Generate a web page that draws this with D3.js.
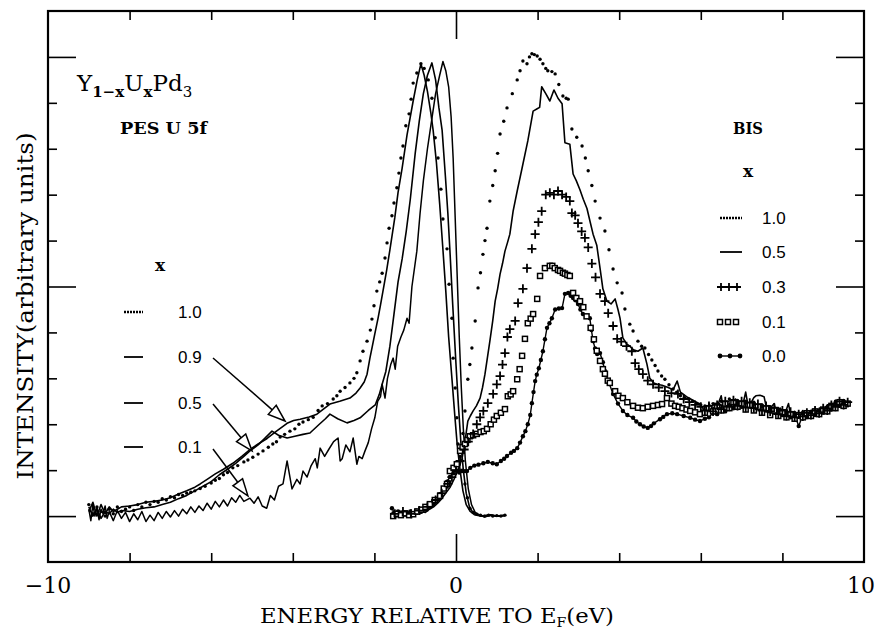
<!DOCTYPE html>
<html>
<head>
<meta charset="utf-8">
<script src="https://cdnjs.cloudflare.com/ajax/libs/d3/7.8.5/d3.min.js"></script>
<style>
  body { margin: 0; background: #fff; }
  svg text { fill: #000; }
</style>
</head>
<body>
<div id="main"></div>
<script>
// ---- data: [energy (eV), intensity (arb.)] ----

// PES U 5f, x = 1.0 (dotted)
var pes10 = [[-9.0,0.25],[-8.9,0.05],[-8.8,0.2],[-8.7,0.1],[-8.6,0.0],[-8.5,0.15],[-8.4,0.05],[-8.3,0.2],[-8.2,0.1],[-8.1,0.15],
  [-8.0,0.2],[-7.9,0.12],[-7.8,0.25],[-7.7,0.2],[-7.6,0.3],[-7.5,0.25],[-7.4,0.32],[-7.3,0.3],[-7.2,0.38],[-7.1,0.35],
  [-7.0,0.42],[-6.9,0.4],[-6.8,0.47],[-6.7,0.45],[-6.6,0.5],[-6.5,0.52],[-6.4,0.55],[-6.27,0.6],[-6.15,0.65],[-6.0,0.72],
  [-5.9,0.78],[-5.8,0.82],[-5.7,0.9],[-5.6,0.95],[-5.47,1.05],[-5.35,1.1],[-5.2,1.18],[-5.1,1.22],[-4.98,1.28],[-4.85,1.35],
  [-4.73,1.42],[-4.6,1.5],[-4.49,1.57],[-4.4,1.62],[-4.31,1.72],[-4.2,1.78],[-4.07,1.85],[-3.95,1.9],[-3.85,2.0],[-3.75,2.05],
  [-3.62,2.1],[-3.5,2.15],[-3.38,2.3],[-3.28,2.4],[-3.15,2.45],[-3.01,2.55],[-2.92,2.62],[-2.84,2.72],[-2.72,2.8],[-2.6,2.9],
  [-2.5,3.0],[-2.43,3.12],[-2.35,3.38],[-2.28,3.59],[-2.18,3.81],[-2.1,4.05],[-2.06,4.29],[-2.01,4.58],[-1.94,4.9],[-1.87,5.1],
  [-1.81,5.29],[-1.74,5.62],[-1.69,5.95],[-1.64,6.27],[-1.57,6.54],[-1.52,6.82],[-1.45,7.15],[-1.4,7.47],[-1.35,7.8],[-1.3,8.06],
  [-1.23,8.5],[-1.15,8.76],[-1.1,9.08],[-1.05,9.43],[-0.96,9.65],[-0.86,9.85],[-0.78,9.75],[-0.68,9.5],[-0.59,9.1],[-0.51,8.24],
  [-0.44,7.8],[-0.37,7.12],[-0.32,6.47],[-0.22,5.82],[-0.17,5.05],[-0.1,4.31],[-0.07,3.44],[-0.02,2.79],[0.02,2.14],[0.05,1.57],
  [0.1,1.3],[0.15,1.0],[0.22,0.7],[0.28,0.4],[0.34,0.17],[0.42,0.08],[0.51,0.04],[0.6,0.02],[0.7,0.0],[0.8,0.02],[0.9,0.0],[1.0,0.01],[1.1,0.0],[1.2,0.02]];

// PES x = 0.9 (solid)
var pes09 = [[-9.0,0.1],[-8.9,0.3],[-8.8,0.0],[-8.7,0.25],[-8.6,0.05],[-8.5,0.2],[-8.4,0.1],[-8.3,0.15],[-8.2,0.2],[-8.0,0.22],
  [-7.8,0.25],[-7.6,0.3],[-7.4,0.32],[-7.2,0.35],[-7.0,0.4],[-6.8,0.48],[-6.6,0.55],[-6.4,0.63],[-6.27,0.7],[-6.1,0.8],
  [-5.9,0.92],[-5.7,1.02],[-5.47,1.15],[-5.25,1.3],[-5.05,1.45],[-4.85,1.57],[-4.63,1.69],[-4.4,1.85],[-4.14,2.02],[-3.98,2.08],
  [-3.82,2.11],[-3.6,2.16],[-3.41,2.22],[-3.25,2.33],[-3.09,2.44],[-2.85,2.5],[-2.6,2.57],[-2.45,2.68],[-2.35,2.79],[-2.25,2.92],
  [-2.18,3.09],[-2.11,3.44],[-2.05,3.7],[-1.99,3.97],[-1.91,4.31],[-1.85,4.6],[-1.79,4.9],[-1.7,5.35],[-1.62,5.8],[-1.5,6.5],
  [-1.42,7.05],[-1.32,7.58],[-1.2,8.3],[-1.05,9.04],[-0.95,9.5],[-0.86,9.85],[-0.78,9.6],[-0.7,9.25],[-0.62,8.8],[-0.56,8.4],
  [-0.48,7.7],[-0.4,6.8],[-0.32,5.8],[-0.25,4.9],[-0.18,3.9],[-0.1,3.0],[-0.03,2.2],[0.03,1.55],[0.1,1.0],[0.17,0.55],
  [0.25,0.25],[0.35,0.1],[0.45,0.03],[0.6,0.0],[0.8,0.02],[1.0,0.0],[1.2,0.01]];

// PES x = 0.5 (solid)
var pes05 = [[-9.0,0.2],[-8.9,0.0],[-8.8,0.15],[-8.7,-0.05],[-8.6,0.1],[-8.5,0.05],[-8.4,0.15],[-8.3,0.08],[-8.2,0.12],[-8.0,0.1],
  [-7.8,0.15],[-7.6,0.18],[-7.4,0.2],[-7.2,0.25],[-7.0,0.3],[-6.8,0.38],[-6.6,0.45],[-6.4,0.55],[-6.2,0.65],[-6.0,0.75],
  [-5.8,0.9],[-5.6,1.02],[-5.4,1.15],[-5.2,1.3],[-5.05,1.42],[-4.85,1.55],[-4.7,1.68],[-4.51,1.85],[-4.35,1.76],[-4.14,1.7],
  [-3.95,1.74],[-3.75,1.78],[-3.58,1.81],[-3.35,2.0],[-3.2,2.12],[-3.09,2.22],[-2.9,2.12],[-2.67,2.03],[-2.5,2.08],[-2.35,2.14],
  [-2.15,2.3],[-1.98,2.42],[-1.88,2.65],[-1.81,2.87],[-1.72,3.15],[-1.62,3.7],[-1.52,4.4],[-1.42,5.1],[-1.32,5.6],[-1.22,6.2],
  [-1.12,6.9],[-1.0,7.9],[-0.9,8.6],[-0.8,9.2],[-0.7,9.6],[-0.59,9.87],[-0.5,9.5],[-0.42,8.9],[-0.34,8.4],[-0.26,7.4],
  [-0.2,6.6],[-0.15,5.8],[-0.08,4.6],[0.0,3.3],[0.06,2.4],[0.12,1.6],[0.18,1.0],[0.25,0.5],[0.33,0.2],[0.42,0.07],
  [0.55,0.02],[0.7,0.0],[0.85,0.03],[1.0,0.0],[1.2,0.02]];

// PES x = 0.1 (solid, noisy)
var pes01 = [[-9.0,0.15],[-8.95,-0.1],[-8.9,0.25],[-8.85,0.0],[-8.8,0.2],[-8.75,-0.08],[-8.7,0.15],[-8.65,0.05],[-8.6,0.22],[-8.55,-0.05],
  [-8.5,0.1],[-8.4,-0.1],[-8.3,0.12],[-8.2,-0.05],[-8.1,0.08],[-8.0,-0.12],[-7.9,0.05],[-7.8,-0.08],[-7.7,0.1],[-7.6,-0.12],
  [-7.5,0.02],[-7.4,-0.1],[-7.3,0.08],[-7.2,-0.05],[-7.1,0.1],[-7.0,-0.02],[-6.9,0.12],[-6.8,0.0],[-6.7,0.15],[-6.6,0.05],
  [-6.5,0.2],[-6.4,0.08],[-6.3,0.22],[-6.2,0.12],[-6.1,0.28],[-6.0,0.15],[-5.9,0.32],[-5.8,0.2],[-5.7,0.35],[-5.6,0.22],
  [-5.5,0.4],[-5.4,0.3],[-5.3,0.45],[-5.2,0.32],[-5.05,0.39],[-4.95,0.28],[-4.85,0.42],[-4.75,0.22],[-4.64,0.17],[-4.55,0.45],
  [-4.45,0.35],[-4.35,0.65],[-4.24,0.7],[-4.14,1.2],[-4.02,0.59],[-3.9,0.8],[-3.82,0.7],[-3.75,0.98],[-3.65,0.85],[-3.55,1.1],
  [-3.45,1.25],[-3.4,1.05],[-3.33,1.48],[-3.22,1.3],[-3.12,1.45],[-3.0,1.62],[-2.89,1.7],[-2.84,1.2],[-2.79,1.25],[-2.7,1.55],
  [-2.6,1.4],[-2.52,1.7],[-2.43,1.13],[-2.38,1.3],[-2.3,1.25],[-2.23,1.42],[-2.15,1.6],[-2.07,1.9],[-1.99,2.14],[-1.92,2.5],
  [-1.85,2.6],[-1.81,2.87],[-1.74,2.57],[-1.68,3.0],[-1.6,3.3],[-1.54,3.44],[-1.49,3.2],[-1.43,3.7],[-1.35,3.9],[-1.28,4.05],
  [-1.2,4.31],[-1.15,4.2],[-1.08,5.0],[-0.96,5.77],[-0.88,6.6],[-0.8,7.3],[-0.7,8.0],[-0.6,8.6],[-0.5,9.2],[-0.4,9.6],
  [-0.32,9.9],[-0.25,9.7],[-0.18,9.35],[-0.12,8.7],[-0.07,7.8],[-0.02,6.5],[0.03,5.2],[0.08,3.9],[0.13,2.8],[0.18,1.9],
  [0.23,1.2],[0.3,0.6],[0.38,0.25],[0.47,0.08],[0.58,0.02],[0.7,-0.02],[0.85,0.02],[1.0,0.0],[1.2,0.01]];

// BIS x = 1.0 (dotted)
var bis10 = [[-1.55,0.05],[-1.45,0.0],[-1.35,0.08],[-1.25,0.02],[-1.15,0.07],[-1.05,0.03],[-0.95,0.1],[-0.85,0.08],[-0.75,0.15],[-0.65,0.2],
  [-0.55,0.25],[-0.45,0.35],[-0.35,0.45],[-0.25,0.6],[-0.15,0.75],[-0.05,0.92],[0.05,1.12],[0.12,1.4],[0.17,1.8],[0.22,2.29],
  [0.29,2.98],[0.34,3.3],[0.39,3.66],[0.47,4.25],[0.54,4.97],[0.6,5.3],[0.66,5.7],[0.71,6.0],[0.76,6.27],[0.83,6.86],
  [0.9,7.2],[0.96,7.52],[1.02,7.9],[1.08,8.32],[1.17,8.6],[1.25,8.89],[1.38,9.2],[1.5,9.5],[1.57,9.7],[1.64,9.91],
  [1.74,9.85],[1.8,10.0],[1.86,10.07],[1.92,10.05],[1.99,10.02],[2.06,9.95],[2.13,9.85],[2.2,9.75],[2.25,9.7],[2.35,9.68],
  [2.43,9.63],[2.52,9.4],[2.62,9.15],[2.7,9.1],[2.75,9.08],[2.84,8.43],[2.96,8.25],[3.09,8.06],[3.17,7.8],[3.24,7.52],
  [3.33,7.2],[3.41,6.86],[3.53,6.49],[3.65,6.21],[3.75,5.8],[3.85,5.38],[3.95,5.08],[4.07,4.86],[4.14,4.51],[4.26,4.18],
  [4.34,4.03],[4.46,3.81],[4.55,3.7],[4.63,3.66],[4.72,3.52],[4.8,3.4],[4.88,3.28],[4.95,3.16],[5.04,3.05],[5.12,2.98],
  [5.22,2.86],[5.32,2.77],[5.41,2.7],[5.5,2.62],[5.6,2.58],[5.7,2.55],[5.8,2.5],[5.9,2.45],[6.0,2.42],[6.1,2.4],
  [6.2,2.32],[6.3,2.45],[6.4,2.38],[6.5,2.5],[6.6,2.42],[6.7,2.55],[6.8,2.47],[6.9,2.52],[7.0,2.4],[7.1,2.5],
  [7.2,2.43],[7.3,2.48],[7.4,2.36],[7.5,2.42],[7.6,2.3],[7.7,2.38],[7.8,2.28],[7.9,2.34],[8.0,2.22],[8.1,2.3],
  [8.2,2.18],[8.3,2.25],[8.4,2.15],[8.5,2.24],[8.6,2.2],[8.7,2.28],[8.8,2.22],[8.9,2.3],[9.0,2.32],[9.1,2.38],
  [9.2,2.35],[9.3,2.5],[9.4,2.44],[9.5,2.52],[9.6,2.4]];

// BIS x = 0.5 (solid)
var bis05 = [[-1.57,0.1],[-1.5,0.02],[-1.42,0.08],[-1.33,0.0],[-1.25,0.06],[-1.15,0.02],[-1.05,0.08],[-0.95,0.04],[-0.85,0.1],[-0.75,0.08],
  [-0.65,0.15],[-0.55,0.2],[-0.45,0.28],[-0.35,0.38],[-0.25,0.5],[-0.15,0.62],[-0.05,0.8],[0.05,1.0],[0.15,1.26],[0.22,1.63],
  [0.29,2.07],[0.35,2.18],[0.42,2.29],[0.5,2.4],[0.59,2.57],[0.65,2.8],[0.71,3.09],[0.77,3.45],[0.83,3.81],[0.9,4.25],
  [0.96,4.68],[1.02,4.95],[1.08,5.27],[1.14,5.5],[1.2,5.77],[1.26,5.95],[1.32,6.14],[1.4,6.64],[1.5,7.08],[1.62,7.58],
  [1.76,8.17],[1.89,8.82],[1.99,8.87],[2.05,8.9],[2.1,9.35],[2.2,9.2],[2.3,9.04],[2.4,9.28],[2.5,9.1],[2.6,8.98],
  [2.67,8.13],[2.79,8.1],[2.87,7.45],[2.95,7.3],[3.04,7.1],[3.12,6.9],[3.21,6.7],[3.29,6.4],[3.36,6.14],[3.45,5.9],
  [3.53,5.4],[3.6,4.95],[3.7,4.68],[3.8,4.62],[3.9,4.73],[3.97,4.5],[4.02,4.31],[4.09,3.88],[4.18,3.75],[4.26,3.7],
  [4.35,3.62],[4.46,3.59],[4.58,3.66],[4.68,3.31],[4.75,3.0],[4.85,2.9],[4.92,2.87],[5.05,2.85],[5.2,2.8],[5.32,2.75],
  [5.42,2.94],[5.5,2.7],[5.56,2.66],[5.65,2.6],[5.75,2.55],[5.85,2.5],[5.98,2.44],[6.05,2.35],[6.15,2.2],[6.2,2.45],
  [6.3,2.3],[6.4,2.38],[6.5,2.62],[6.55,2.35],[6.65,2.45],[6.75,2.4],[6.85,2.55],[6.95,2.42],[7.05,2.5],[7.1,2.7],
  [7.15,2.45],[7.25,2.5],[7.3,2.58],[7.35,2.62],[7.45,2.63],[7.55,2.6],[7.6,2.4],[7.7,2.35],[7.8,2.45],[7.85,2.25],
  [7.95,2.35],[8.05,2.2],[8.15,2.45],[8.2,2.2],[8.3,2.28],[8.4,2.15],[8.5,2.3],[8.6,2.18],[8.7,2.25],[8.8,2.35],
  [8.9,2.2],[9.0,2.3],[9.1,2.42],[9.2,2.3],[9.3,2.52],[9.4,2.38],[9.5,2.5],[9.6,2.42]];

// BIS x = 0.3 (plus signs)
var bis03 = [[-1.5,0.05],[-1.3,0.1],[-1.1,0.05],[-0.9,0.12],[-0.7,0.2],[-0.5,0.35],[-0.35,0.5],[-0.2,0.7],[-0.1,0.85],[0.0,1.0],
  [0.1,1.2],[0.2,1.45],[0.3,1.62],[0.42,1.79],[0.51,2.0],[0.59,2.15],[0.67,2.29],[0.78,2.46],[0.91,2.66],[1.0,2.87],
  [1.08,3.05],[1.14,3.3],[1.2,3.55],[1.26,3.9],[1.32,4.07],[1.45,4.25],[1.52,4.64],[1.64,4.95],[1.74,5.4],[1.86,5.82],
  [1.94,6.14],[2.02,6.4],[2.1,6.64],[2.2,7.0],[2.3,7.04],[2.4,7.0],[2.5,7.08],[2.6,7.0],[2.7,6.95],[2.79,6.86],
  [2.84,6.6],[2.92,6.55],[2.99,6.38],[3.08,6.2],[3.16,6.06],[3.24,5.85],[3.33,5.5],[3.42,5.2],[3.53,4.84],[3.65,4.68],
  [3.73,4.42],[3.85,4.14],[3.95,3.86],[4.05,3.8],[4.18,3.7],[4.31,3.59],[4.39,3.33],[4.48,3.2],[4.58,3.09],[4.7,2.95],
  [4.83,2.87],[4.97,2.8],[5.12,2.72],[5.28,2.68],[5.44,2.66],[5.58,2.55],[5.72,2.48],[5.86,2.42],[6.0,2.38],[6.1,2.3],
  [6.2,2.4],[6.3,2.28],[6.4,2.42],[6.5,2.33],[6.6,2.5],[6.7,2.38],[6.8,2.52],[6.9,2.4],[7.0,2.5],[7.1,2.36],
  [7.2,2.47],[7.3,2.35],[7.4,2.44],[7.5,2.3],[7.6,2.4],[7.7,2.28],[7.8,2.36],[7.9,2.22],[8.0,2.3],[8.1,2.18],
  [8.2,2.27],[8.3,2.15],[8.4,2.22],[8.5,2.17],[8.6,2.25],[8.7,2.2],[8.8,2.3],[8.9,2.24],[9.0,2.35],[9.1,2.3],
  [9.2,2.42],[9.3,2.38],[9.4,2.5],[9.5,2.42],[9.6,2.48]];

// BIS x = 0.1 (squares)
var bis01 = [[-1.54,0.0],[-1.45,0.05],[-1.35,0.02],[-1.25,0.06],[-1.15,0.02],[-1.05,0.04],[-0.95,0.1],[-0.85,0.14],[-0.75,0.2],[-0.64,0.26],
  [-0.52,0.35],[-0.39,0.44],[-0.3,0.6],[-0.22,0.7],[-0.15,0.98],[-0.06,1.05],[0.02,1.13],[0.1,1.42],[0.16,1.5],[0.22,1.57],
  [0.28,1.66],[0.34,1.74],[0.42,1.76],[0.51,1.79],[0.6,1.83],[0.68,1.85],[0.76,1.9],[0.85,2.0],[0.93,2.1],[1.0,2.18],
  [1.1,2.25],[1.2,2.33],[1.27,2.61],[1.34,2.65],[1.4,2.72],[1.5,2.98],[1.56,3.2],[1.62,3.49],[1.69,3.86],[1.76,4.2],
  [1.83,4.3],[1.89,4.4],[1.99,4.73],[2.06,5.23],[2.18,5.4],[2.3,5.45],[2.36,5.45],[2.42,5.4],[2.5,5.36],[2.55,5.34],
  [2.62,5.3],[2.67,5.28],[2.73,5.25],[2.79,5.23],[2.87,4.86],[2.95,4.75],[3.04,4.68],[3.12,4.55],[3.2,4.35],[3.3,4.1],
  [3.38,3.85],[3.45,3.6],[3.53,3.38],[3.6,3.2],[3.65,3.1],[3.72,2.95],[3.77,2.9],[3.9,2.72],[3.98,2.62],[4.09,2.57],
  [4.2,2.48],[4.34,2.4],[4.46,2.36],[4.58,2.35],[4.7,2.38],[4.83,2.4],[4.95,2.42],[5.05,2.44],[5.17,2.57],[5.28,2.45],
  [5.37,2.4],[5.46,2.38],[5.55,2.35],[5.65,2.32],[5.74,2.29],[5.86,2.26],[5.98,2.22],[6.1,2.25],[6.2,2.35],[6.3,2.28],
  [6.4,2.4],[6.5,2.3],[6.6,2.45],[6.7,2.35],[6.8,2.48],[6.9,2.38],[7.0,2.45],[7.1,2.32],[7.2,2.42],[7.3,2.3],
  [7.4,2.38],[7.5,2.25],[7.6,2.35],[7.7,2.2],[7.8,2.3],[7.9,2.18],[8.0,2.26],[8.1,2.15],[8.2,2.22],[8.3,2.12],
  [8.4,2.2],[8.5,2.15],[8.6,2.24],[8.7,2.18],[8.8,2.28],[8.9,2.22],[9.0,2.32],[9.1,2.28],[9.2,2.4],[9.3,2.35],
  [9.4,2.48],[9.5,2.4],[9.6,2.45]];

// BIS x = 0.0 (dots joined by line)
var bis00 = [[-1.57,0.17],[-1.5,0.05],[-1.42,0.1],[-1.35,0.02],[-1.28,0.08],[-1.2,0.05],[-1.12,0.1],[-1.05,0.06],[-0.98,0.12],[-0.9,0.1],
  [-0.82,0.15],[-0.75,0.14],[-0.68,0.2],[-0.6,0.22],[-0.52,0.3],[-0.45,0.38],[-0.38,0.48],[-0.3,0.6],[-0.22,0.75],[-0.15,0.85],
  [-0.08,0.95],[0.0,1.0],[0.08,0.95],[0.15,0.98],[0.22,0.98],[0.27,0.98],[0.35,1.05],[0.45,1.1],[0.55,1.12],[0.67,1.15],
  [0.78,1.18],[0.9,1.15],[1.0,1.13],[1.1,1.2],[1.18,1.25],[1.25,1.31],[1.35,1.38],[1.42,1.42],[1.5,1.48],[1.57,1.6],
  [1.64,1.74],[1.7,1.85],[1.76,2.0],[1.82,2.2],[1.86,2.46],[1.9,2.7],[1.94,2.94],[1.98,3.08],[2.03,3.22],[2.08,3.4],
  [2.13,3.59],[2.18,3.85],[2.23,4.1],[2.29,4.2],[2.35,4.31],[2.43,4.5],[2.52,4.52],[2.6,4.53],[2.67,4.84],[2.75,4.86],
  [2.81,4.8],[2.87,4.75],[2.93,4.7],[2.99,4.62],[3.05,4.5],[3.11,4.4],[3.2,4.35],[3.28,4.31],[3.32,4.05],[3.36,3.81],
  [3.41,3.65],[3.46,3.53],[3.53,3.55],[3.6,3.35],[3.65,3.16],[3.75,2.9],[3.85,2.66],[3.97,2.45],[4.09,2.29],[4.2,2.2],
  [4.34,2.14],[4.42,2.06],[4.51,2.0],[4.6,1.95],[4.7,1.92],[4.78,1.96],[4.85,2.02],[5.0,2.11],[5.08,2.16],[5.17,2.22],
  [5.3,2.24],[5.42,2.22],[5.58,2.18],[5.74,2.14],[5.86,2.1],[5.98,2.07],[6.1,2.12],[6.2,2.15],[6.3,2.25],[6.4,2.22],
  [6.5,2.32],[6.6,2.28],[6.7,2.4],[6.8,2.35],[6.9,2.45],[7.0,2.38],[7.1,2.48],[7.2,2.4],[7.3,2.45],[7.4,2.35],
  [7.5,2.4],[7.6,2.3],[7.7,2.35],[7.8,2.25],[7.9,2.3],[8.0,2.2],[8.1,2.25],[8.2,2.15],[8.3,2.2],[8.4,1.96],
  [8.5,2.2],[8.6,2.15],[8.7,2.25],[8.8,2.2],[8.9,2.3],[9.0,2.25],[9.1,2.35],[9.2,2.32],[9.3,2.45],[9.4,2.4],
  [9.5,2.5],[9.6,2.45]];

var xTicks = [-8, -6, -4, -2, 0, 2, 4, 6, 8];
var xTickLabels = [-10, 0, 10];
var yTicks = [0, 1, 2, 3, 4, 5, 6, 7, 8, 9, 10];
var yMajor = [0, 5, 10];

var pesLegend = ["1.0", "0.9", "0.5", "0.1"];
var bisLegend = ["1.0", "0.5", "0.3", "0.1", "0.0"];
// arrow tips point into the PES curves (energy, intensity)
var pesArrowTips = [[-4.19, 2.07], [-5.0, 1.42], [-5.1, 0.44]];

// ---- layout ----
var margin = {top: 11, right: 12, bottom: 69, left: 48},
  width = 876 - margin.left - margin.right,
  height = 631 - margin.top - margin.bottom;

var x = d3.scaleLinear().domain([-10, 10]).range([0, width]);
var y = d3.scaleLinear().domain([-1, 11]).range([height, 0]);

var svg = d3.select("#main").append("svg")
  .attr("width", 876)
  .attr("height", 631);

var g = svg.append("g")
  .attr("transform", "translate(" + margin.left + "," + margin.top + ")");

var serif = "'DejaVu Serif', 'Liberation Serif', serif";
var sans = "'Liberation Sans', Arial, sans-serif";

// frame
g.append("rect")
  .attr("width", width)
  .attr("height", height)
  .attr("fill", "none")
  .attr("stroke", "#000")
  .attr("stroke-width", 2.2);

function styleTicks(sel) {
  sel.select(".domain").remove();
  sel.selectAll(".tick line")
    .attr("stroke", "#000")
    .attr("stroke-width", 1.6);
}

// bottom ticks point up into the plot
g.append("g")
  .attr("transform", "translate(0," + height + ")")
  .call(d3.axisTop(x).tickValues(xTicks).tickFormat(""))
  .call(styleTicks)
  .selectAll(".tick line").attr("y2", function(d) { return d === 0 ? -28 : -9; });

// top ticks point down
g.append("g")
  .call(d3.axisBottom(x).tickValues(xTicks).tickFormat(""))
  .call(styleTicks)
  .selectAll(".tick line").attr("y2", function(d) { return d === 0 ? 28 : 9; });

// left ticks
g.append("g")
  .call(d3.axisRight(y).tickValues(yTicks).tickFormat(""))
  .call(styleTicks)
  .selectAll(".tick line").attr("x2", function(d) { return yMajor.indexOf(d) >= 0 ? 28 : 9; });

// right ticks
g.append("g")
  .attr("transform", "translate(" + width + ",0)")
  .call(d3.axisLeft(y).tickValues(yTicks).tickFormat(""))
  .call(styleTicks)
  .selectAll(".tick line").attr("x2", function(d) { return yMajor.indexOf(d) >= 0 ? -28 : -9; });

// x tick labels (the last one is pulled in a little so it stays on the page)
g.selectAll(".xlab")
  .data(xTickLabels)
  .enter().append("text")
  .attr("class", "xlab")
  .attr("x", function(d) { return d === 10 ? x(d) - 3 : x(d); })
  .attr("y", height + 31)
  .attr("text-anchor", "middle")
  .style("font-family", serif)
  .style("font-size", "22px")
  .text(function(d) { return d < 0 ? "\u2212" + Math.abs(d) : d; });

// axis titles
var xt = svg.append("text")
  .attr("x", 260)
  .attr("y", 623)
  .attr("textLength", 354)
  .attr("lengthAdjust", "spacingAndGlyphs")
  .style("font-family", serif)
  .style("font-size", "21px");
xt.append("tspan").text("ENERGY RELATIVE TO E");
xt.append("tspan").attr("dy", 4).style("font-size", "13px").text("F");
xt.append("tspan").attr("dy", -4).text("(eV)");

svg.append("text")
  .attr("transform", "translate(33,306) rotate(-90)")
  .attr("text-anchor", "middle")
  .attr("textLength", 347)
  .attr("lengthAdjust", "spacingAndGlyphs")
  .style("font-family", serif)
  .style("font-size", "22px")
  .text("INTENSITY(arbitrary units)");

// ---- series ----
var line = d3.line()
  .x(function(d) { return x(d[0]); })
  .y(function(d) { return y(d[1]); });

function drawLine(data, w) {
  g.append("path")
    .datum(data)
    .attr("fill", "none")
    .attr("stroke", "#000")
    .attr("stroke-width", w)
    .attr("stroke-linejoin", "round")
    .attr("d", line);
}

function drawDots(data, r, cls) {
  g.selectAll("." + cls)
    .data(data)
    .enter().append("circle")
    .attr("class", cls)
    .attr("cx", function(d) { return x(d[0]); })
    .attr("cy", function(d) { return y(d[1]); })
    .attr("r", r)
    .attr("fill", "#000");
}

drawLine(pes09, 1.6);
drawLine(pes05, 1.6);
drawLine(pes01, 1.5);
drawDots(pes10, 1.7, "pes10");

drawLine(bis05, 1.6);
drawDots(bis10, 1.7, "bis10");
drawLine(bis00, 1.4);
drawDots(bis00, 2.2, "bis00");

g.selectAll(".bis01")
  .data(bis01)
  .enter().append("rect")
  .attr("class", "bis01")
  .attr("x", function(d) { return x(d[0]) - 2.5; })
  .attr("y", function(d) { return y(d[1]) - 2.5; })
  .attr("width", 5)
  .attr("height", 5)
  .attr("fill", "#fff")
  .attr("stroke", "#000")
  .attr("stroke-width", 1.5);

g.selectAll(".bis03")
  .data(bis03)
  .enter().append("path")
  .attr("class", "bis03")
  .attr("d", function(d) {
    var px = x(d[0]), py = y(d[1]);
    return "M" + (px - 4.5) + "," + py + "H" + (px + 4.5) + "M" + px + "," + (py - 4.5) + "V" + (py + 4.5);
  })
  .attr("stroke", "#000")
  .attr("stroke-width", 1.8);

// ---- labels and legends ----
var title = svg.append("text")
  .attr("x", 77)
  .attr("y", 91)
  .style("font-family", serif)
  .style("font-size", "23px");
title.append("tspan").text("Y");
title.append("tspan").attr("dy", 6).style("font-size", "15px").style("font-weight", "bold").text("1\u2212x");
title.append("tspan").attr("dy", -6).text("U");
title.append("tspan").attr("dy", 6).style("font-size", "15px").style("font-weight", "bold").text("x");
title.append("tspan").attr("dy", -6).text("Pd");
title.append("tspan").attr("dy", 6).style("font-size", "15px").text("3");

svg.append("text")
  .attr("x", 120).attr("y", 134)
  .attr("textLength", 87).attr("lengthAdjust", "spacingAndGlyphs")
  .style("font-family", serif).style("font-size", "16px").style("font-weight", "bold")
  .text("PES U 5f");

svg.append("text")
  .attr("x", 733).attr("y", 134)
  .attr("textLength", 30).attr("lengthAdjust", "spacingAndGlyphs")
  .style("font-family", serif).style("font-size", "16px").style("font-weight", "bold")
  .text("BIS");

svg.append("text")
  .attr("x", 160).attr("y", 271).attr("text-anchor", "middle")
  .style("font-family", serif).style("font-size", "17px").style("font-weight", "bold")
  .text("x");
svg.append("text")
  .attr("x", 748).attr("y", 177).attr("text-anchor", "middle")
  .style("font-family", serif).style("font-size", "17px").style("font-weight", "bold")
  .text("x");

var pesY = [312, 357, 403, 447];
var pl = svg.selectAll(".pesleg")
  .data(pesLegend)
  .enter().append("g")
  .attr("class", "pesleg")
  .attr("transform", function(d, i) { return "translate(0," + pesY[i] + ")"; });
pl.append("line")
  .attr("x1", 124).attr("x2", 143).attr("y1", 0).attr("y2", 0)
  .attr("stroke", "#000")
  .attr("stroke-width", function(d, i) { return i === 0 ? 2.6 : 1.8; })
  .attr("stroke-dasharray", function(d, i) { return i === 0 ? "2,1" : null; });
pl.append("text")
  .attr("x", 178).attr("y", 6)
  .style("font-family", sans).style("font-size", "17px")
  .text(function(d) { return d; });

var bisY = [218, 252, 287, 322, 356];
var bl = svg.selectAll(".bisleg")
  .data(bisLegend)
  .enter().append("g")
  .attr("class", "bisleg")
  .attr("transform", function(d, i) { return "translate(0," + bisY[i] + ")"; });
bl.append("text")
  .attr("x", 762).attr("y", 6)
  .style("font-family", sans).style("font-size", "17px")
  .text(function(d) { return d; });
bl.each(function(d, i) {
  var s = d3.select(this);
  if (i === 0) {
    s.append("line").attr("x1", 720).attr("x2", 742).attr("stroke", "#000")
      .attr("stroke-width", 2.6).attr("stroke-dasharray", "2,1");
  } else if (i === 1) {
    s.append("line").attr("x1", 720).attr("x2", 742).attr("stroke", "#000").attr("stroke-width", 1.8);
  } else if (i === 2) {
    [721, 729, 737].forEach(function(px) {
      s.append("path").attr("d", "M" + (px - 4) + ",0H" + (px + 4) + "M" + px + ",-4V4")
        .attr("stroke", "#000").attr("stroke-width", 1.8);
    });
  } else if (i === 3) {
    [720, 728, 736].forEach(function(px) {
      s.append("rect").attr("x", px - 2.5).attr("y", -2.5).attr("width", 5).attr("height", 5)
        .attr("fill", "#fff").attr("stroke", "#000").attr("stroke-width", 1.5);
    });
  } else {
    s.append("line").attr("x1", 720).attr("x2", 740).attr("stroke", "#000").attr("stroke-width", 1.4);
    [720, 730, 740].forEach(function(px) {
      s.append("circle").attr("cx", px).attr("cy", 0).attr("r", 2.4).attr("fill", "#000");
    });
  }
});

// arrows from PES legend labels to their curves
var arrowTails = [[213, 358], [213, 404], [213, 449]];
pesArrowTips.forEach(function(t, i) {
  var tx = margin.left + x(t[0]), ty = margin.top + y(t[1]);
  var sx = arrowTails[i][0], sy = arrowTails[i][1];
  var dx = tx - sx, dy = ty - sy, len = Math.sqrt(dx * dx + dy * dy);
  var ux = dx / len, uy = dy / len;
  var bx = tx - ux * 17, by = ty - uy * 17;
  svg.append("line")
    .attr("x1", sx).attr("y1", sy).attr("x2", bx).attr("y2", by)
    .attr("stroke", "#000").attr("stroke-width", 1.5);
  svg.append("path")
    .attr("d", "M" + tx + "," + ty + "L" + (bx - uy * 6) + "," + (by + ux * 6) + "L" + (bx + uy * 6) + "," + (by - ux * 6) + "Z")
    .attr("fill", "#fff").attr("stroke", "#000").attr("stroke-width", 1.5);
});
</script>
</body>
</html>
